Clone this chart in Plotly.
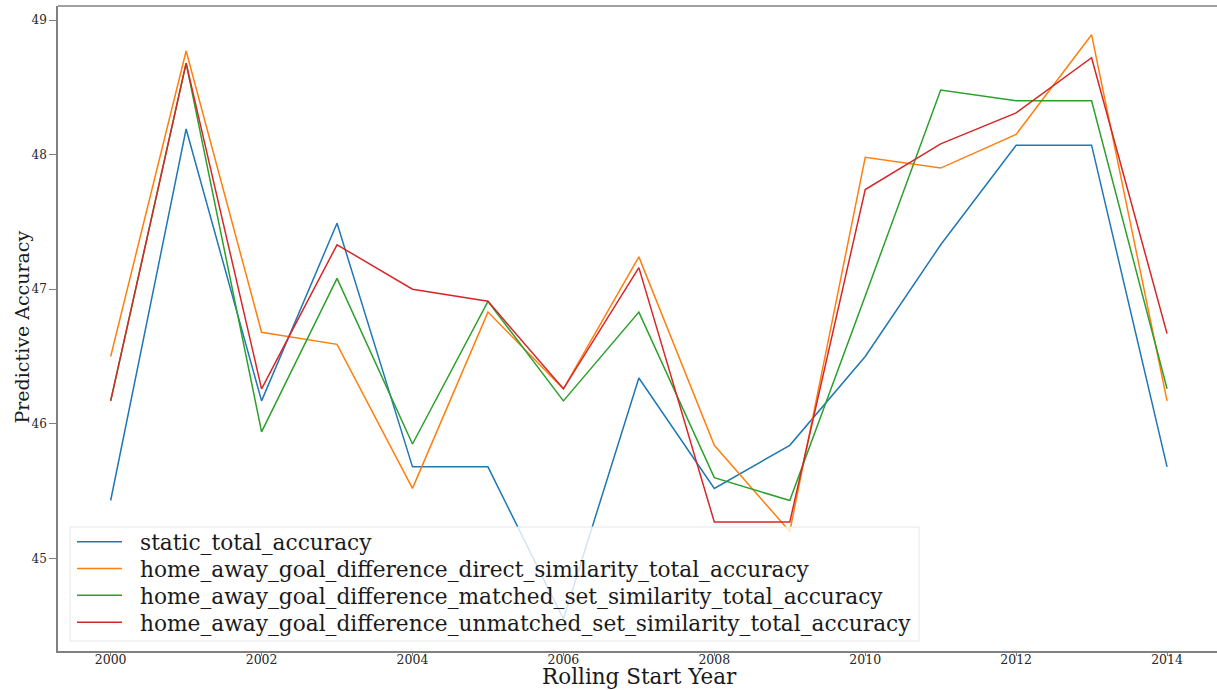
import plotly.graph_objects as go

# Rolling start years of the evaluation windows
years = list(range(2000, 2015))

# Predictive accuracy (%) per rolling window
static_total_accuracy = [45.43, 48.19, 46.17, 47.49, 45.68, 45.68, 44.55, 46.34,
                         45.52, 45.84, 46.50, 47.33, 48.07, 48.07, 45.68]
direct_similarity_accuracy = [46.50, 48.77, 46.68, 46.59, 45.52, 46.83, 46.26, 47.24,
                              45.84, 45.20, 47.98, 47.90, 48.15, 48.89, 46.17]
matched_set_similarity_accuracy = [46.17, 48.68, 45.94, 47.08, 45.85, 46.91, 46.17, 46.83,
                                   45.60, 45.43, 46.95, 48.48, 48.40, 48.40, 46.26]
unmatched_set_similarity_accuracy = [46.17, 48.68, 46.26, 47.33, 47.00, 46.91, 46.26, 47.16,
                                     45.27, 45.27, 47.74, 48.08, 48.31, 48.72, 46.67]

series_names = [
    "static_total_accuracy",
    "home_away_goal_difference_direct_similarity_total_accuracy",
    "home_away_goal_difference_matched_set_similarity_total_accuracy",
    "home_away_goal_difference_unmatched_set_similarity_total_accuracy",
]
series_values = [
    static_total_accuracy,
    direct_similarity_accuracy,
    matched_set_similarity_accuracy,
    unmatched_set_similarity_accuracy,
]
colors = ["#1f77b4", "#ff7f0e", "#2ca02c", "#d62728"]

x_ticks = [2000, 2002, 2004, 2006, 2008, 2010, 2012, 2014]
y_ticks = [45, 46, 47, 48, 49]

SERIF = "DejaVu Serif"
SPINE = "#808080"
TEXT = "#1a1a1a"

W, H = 1217, 690
M_L, M_R, M_T, M_B = 58, 0, 6, 39
PLOT_W = W - M_L - M_R
PLOT_H = H - M_T - M_B


def px_x(px):
    """Page pixel column -> paper x fraction."""
    return (px - M_L) / PLOT_W


def px_y(py):
    """Page pixel row -> paper y fraction."""
    return (H - M_B - py) / PLOT_H


fig = go.Figure()
for name, vals, col in zip(series_names, series_values, colors):
    fig.add_trace(go.Scatter(
        x=years, y=vals, mode="lines", name=name,
        line=dict(color=col, width=1.5), showlegend=False,
    ))

axis_common = dict(
    showgrid=False, zeroline=False, showline=True,
    linecolor=SPINE, linewidth=1.5, mirror=False,
    ticks="outside", tickcolor=SPINE, tickwidth=1,
    automargin=False,
)

annotations = [
    dict(text="Rolling Start Year", xref="paper", yref="paper",
         x=px_x(639), y=px_y(676.5), xanchor="center", yanchor="middle",
         showarrow=False, font=dict(family=SERIF, size=21.5, color=TEXT)),
    dict(text="Predictive Accuracy", xref="paper", yref="paper",
         x=px_x(21), y=px_y(327.5), xanchor="center", yanchor="middle", textangle=-90,
         showarrow=False, font=dict(family=SERIF, size=19, color=TEXT)),
]

# Legend frame, sample lines and labels
shapes = [
    dict(type="rect", xref="paper", yref="paper",
         x0=px_x(70), x1=px_x(919), y0=px_y(641), y1=px_y(527),
         line=dict(color="#e6e6e6", width=1), fillcolor="rgba(255,255,255,0.8)",
         layer="above"),
]
row_y = [541.7, 568.5, 595.3, 622.2]
for name, col, ry in zip(series_names, colors, row_y):
    shapes.append(dict(type="line", xref="paper", yref="paper",
                       x0=px_x(77), x1=px_x(122), y0=px_y(ry), y1=px_y(ry),
                       line=dict(color=col, width=1.5), layer="above"))
    annotations.append(dict(text=name, xref="paper", yref="paper",
                            x=px_x(138), y=px_y(ry + 1), xanchor="left", yanchor="middle",
                            showarrow=False,
                            font=dict(family=SERIF, size=21.7, color=TEXT)))

# Top spine of the axes frame
shapes.append(dict(type="line", xref="paper", yref="paper", x0=0, x1=1, y0=1, y1=1,
                   line=dict(color=SPINE, width=1.5)))

fig.update_layout(
    width=W, height=H,
    margin=dict(l=M_L, r=M_R, t=M_T, b=M_B, autoexpand=False),
    paper_bgcolor="white", plot_bgcolor="white",
    showlegend=False,
    xaxis=dict(
        range=[1999.302, 2014.662], tickvals=x_ticks, ticklen=3,
        ticklabelstandoff=-7,
        tickfont=dict(family=SERIF, size=12.5, color="#262626"),
        **axis_common,
    ),
    yaxis=dict(
        range=[44.312, 49.104], tickvals=y_ticks, ticklen=7,
        tickfont=dict(family=SERIF, size=12, color="#262626"),
        **axis_common,
    ),
    annotations=annotations,
    shapes=shapes,
)

fig.write_html("out.html")
